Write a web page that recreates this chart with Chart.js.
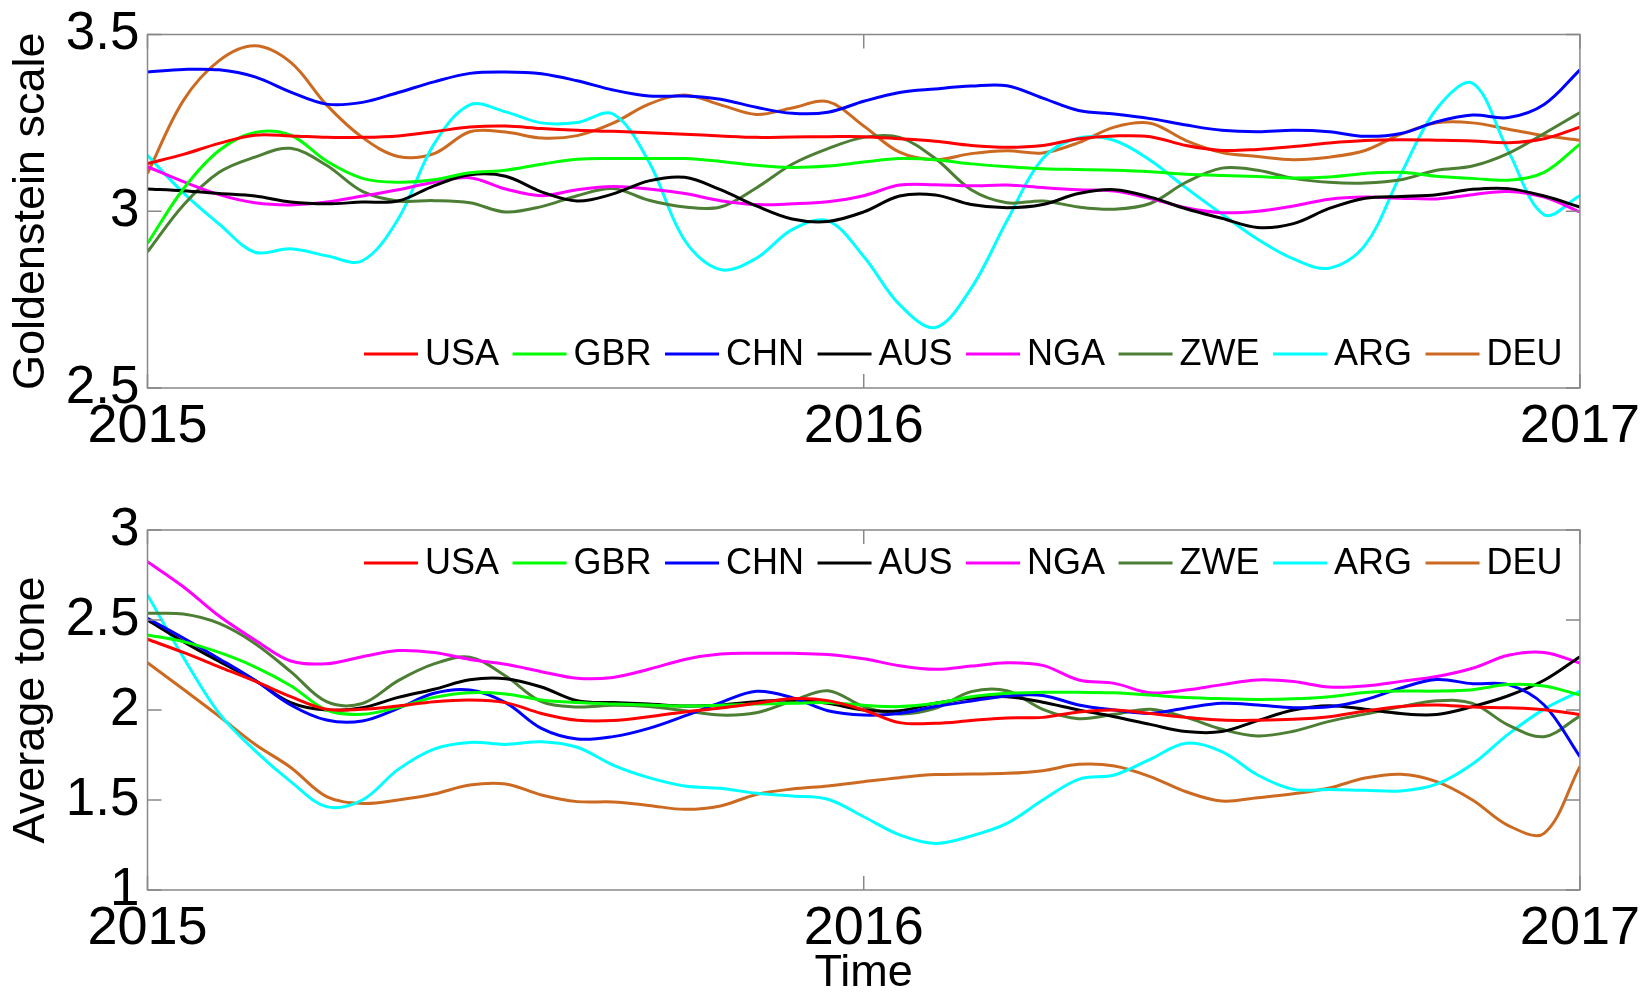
<!DOCTYPE html>
<html>
<head>
<meta charset="utf-8">
<script src="https://cdn.jsdelivr.net/npm/chart.js@4.4.0/dist/chart.umd.min.js"></script>
<style>
  html, body { margin: 0; padding: 0; background: #fff; overflow: hidden; }
  canvas { position: absolute; left: 0; }
  #goldChart { top: 0; }
  #toneChart { top: 470px; }
</style>
</head>
<body>
<canvas id="goldChart" width="1652" height="470"></canvas>
<canvas id="toneChart" width="1652" height="523"></canvas>
<script>
// sample times (fraction of year)
const timeAxis = [2015, 2015.05, 2015.1, 2015.15, 2015.2, 2015.25, 2015.3, 2015.35, 2015.4, 2015.45,
  2015.5, 2015.55, 2015.6, 2015.65, 2015.7, 2015.75, 2015.8, 2015.85, 2015.9, 2015.95,
  2016, 2016.05, 2016.1, 2016.15, 2016.2, 2016.25, 2016.3, 2016.35, 2016.4, 2016.45,
  2016.5, 2016.55, 2016.6, 2016.65, 2016.7, 2016.75, 2016.8, 2016.85, 2016.9, 2016.95, 2017];

const countries = ["USA", "GBR", "CHN", "AUS", "NGA", "ZWE", "ARG", "DEU"];
const colors = ["#ff0000", "#00ff00", "#0000ff", "#000000", "#ff00ff", "#4c7e34", "#00ffff", "#cc6a22"];

const xTickValues = [2015, 2016, 2017];
const xTickLabels = ["2015", "2016", "2017"];
const goldTicks = [2.5, 3, 3.5];
const goldTickLabels = ["2.5", "3", "3.5"];
const toneTicks = [1, 1.5, 2, 2.5, 3];
const toneTickLabels = ["1", "1.5", "2", "2.5", "3"];

// Goldenstein scale
const usaGold = [3.135, 3.161, 3.192, 3.215, 3.213, 3.209, 3.209, 3.213, 3.225, 3.238, 3.241, 3.234, 3.229, 3.226, 3.222, 3.218, 3.213, 3.209, 3.21, 3.211, 3.211, 3.205, 3.198, 3.186, 3.181, 3.186, 3.205, 3.213, 3.211, 3.186, 3.172, 3.175, 3.183, 3.193, 3.2, 3.202, 3.201, 3.199, 3.194, 3.205, 3.238];
const gbrGold = [2.909, 3.063, 3.172, 3.223, 3.215, 3.142, 3.093, 3.082, 3.089, 3.109, 3.116, 3.133, 3.147, 3.149, 3.149, 3.149, 3.141, 3.13, 3.124, 3.128, 3.139, 3.149, 3.146, 3.134, 3.126, 3.12, 3.118, 3.116, 3.112, 3.105, 3.101, 3.098, 3.094, 3.097, 3.107, 3.11, 3.099, 3.093, 3.088, 3.11, 3.19];
const chnGold = [3.394, 3.401, 3.4, 3.38, 3.337, 3.303, 3.308, 3.336, 3.366, 3.39, 3.394, 3.389, 3.369, 3.343, 3.326, 3.326, 3.317, 3.294, 3.277, 3.28, 3.311, 3.336, 3.346, 3.354, 3.355, 3.32, 3.285, 3.275, 3.262, 3.244, 3.229, 3.225, 3.229, 3.225, 3.212, 3.22, 3.253, 3.272, 3.265, 3.302, 3.4];
const ausGold = [3.063, 3.058, 3.05, 3.043, 3.026, 3.021, 3.026, 3.029, 3.072, 3.103, 3.099, 3.055, 3.029, 3.049, 3.086, 3.096, 3.061, 3.015, 2.978, 2.971, 2.998, 3.043, 3.046, 3.019, 3.01, 3.019, 3.05, 3.061, 3.04, 3.007, 2.98, 2.954, 2.965, 3.008, 3.037, 3.042, 3.047, 3.062, 3.064, 3.043, 3.012];
const ngaGold = [3.126, 3.084, 3.047, 3.024, 3.018, 3.026, 3.043, 3.061, 3.082, 3.095, 3.063, 3.044, 3.061, 3.07, 3.063, 3.05, 3.03, 3.019, 3.021, 3.027, 3.044, 3.074, 3.075, 3.072, 3.074, 3.067, 3.061, 3.057, 3.036, 3.01, 2.996, 3.0, 3.015, 3.034, 3.04, 3.037, 3.035, 3.047, 3.056, 3.04, 2.998];
const zweGold = [2.885, 3.017, 3.11, 3.153, 3.178, 3.13, 3.056, 3.029, 3.03, 3.024, 2.998, 3.013, 3.044, 3.064, 3.031, 3.012, 3.012, 3.066, 3.133, 3.177, 3.209, 3.209, 3.149, 3.061, 3.024, 3.029, 3.012, 3.006, 3.022, 3.082, 3.122, 3.116, 3.093, 3.082, 3.08, 3.089, 3.116, 3.128, 3.164, 3.22, 3.279];
const argGold = [3.158, 3.052, 2.964, 2.884, 2.894, 2.874, 2.86, 2.978, 3.19, 3.301, 3.281, 3.25, 3.251, 3.275, 3.14, 2.918, 2.835, 2.867, 2.948, 2.973, 2.872, 2.736, 2.671, 2.782, 2.973, 3.149, 3.207, 3.2, 3.144, 3.066, 2.992, 2.921, 2.865, 2.839, 2.904, 3.105, 3.29, 3.362, 3.17, 2.99, 3.044];
const deuGold = [3.107, 3.313, 3.426, 3.468, 3.421, 3.301, 3.209, 3.155, 3.163, 3.225, 3.224, 3.207, 3.214, 3.249, 3.303, 3.329, 3.301, 3.274, 3.292, 3.31, 3.241, 3.167, 3.146, 3.163, 3.171, 3.165, 3.194, 3.238, 3.249, 3.2, 3.166, 3.155, 3.146, 3.153, 3.172, 3.218, 3.25, 3.25, 3.232, 3.214, 3.201];

// Average tone
const usaTone = [2.393, 2.32, 2.24, 2.16, 2.074, 2.004, 2.004, 2.022, 2.046, 2.056, 2.041, 1.981, 1.943, 1.941, 1.963, 1.989, 2.011, 2.037, 2.063, 2.052, 2.0, 1.93, 1.926, 1.941, 1.956, 1.959, 1.989, 2.0, 1.981, 1.959, 1.944, 1.943, 1.948, 1.963, 1.994, 2.02, 2.028, 2.016, 2.012, 2.002, 1.975];
const gbrTone = [2.417, 2.38, 2.32, 2.24, 2.135, 2.0, 1.976, 2.015, 2.07, 2.096, 2.089, 2.056, 2.041, 2.033, 2.028, 2.022, 2.026, 2.033, 2.037, 2.041, 2.026, 2.019, 2.037, 2.074, 2.093, 2.098, 2.098, 2.096, 2.083, 2.07, 2.063, 2.059, 2.062, 2.074, 2.097, 2.105, 2.105, 2.113, 2.141, 2.133, 2.083];
const chnTone = [2.509, 2.4, 2.285, 2.165, 2.028, 1.944, 1.939, 2.009, 2.093, 2.111, 2.041, 1.898, 1.839, 1.852, 1.898, 1.967, 2.041, 2.104, 2.069, 1.996, 1.972, 1.981, 2.019, 2.05, 2.078, 2.081, 2.028, 2.0, 1.981, 2.011, 2.037, 2.028, 2.013, 2.018, 2.057, 2.122, 2.169, 2.146, 2.141, 2.028, 1.741];
const ausTone = [2.5, 2.38, 2.27, 2.165, 2.041, 2.0, 2.013, 2.07, 2.115, 2.168, 2.174, 2.128, 2.052, 2.041, 2.033, 2.022, 2.028, 2.046, 2.056, 2.037, 2.0, 1.996, 2.037, 2.065, 2.074, 2.043, 2.0, 1.963, 1.92, 1.88, 1.88, 1.941, 2.0, 2.024, 2.004, 1.98, 1.975, 2.019, 2.079, 2.165, 2.296];
const ngaTone = [2.824, 2.685, 2.522, 2.389, 2.272, 2.257, 2.296, 2.33, 2.319, 2.281, 2.254, 2.213, 2.176, 2.181, 2.226, 2.281, 2.311, 2.315, 2.315, 2.309, 2.285, 2.246, 2.226, 2.244, 2.263, 2.248, 2.167, 2.148, 2.096, 2.111, 2.141, 2.167, 2.158, 2.128, 2.134, 2.159, 2.186, 2.232, 2.304, 2.32, 2.261];
const zweTone = [2.537, 2.533, 2.481, 2.37, 2.213, 2.046, 2.036, 2.163, 2.256, 2.293, 2.189, 2.046, 2.017, 2.026, 2.019, 1.996, 1.972, 1.985, 2.05, 2.107, 2.019, 1.978, 2.009, 2.102, 2.107, 2.004, 1.952, 1.976, 2.004, 1.959, 1.893, 1.856, 1.882, 1.937, 1.977, 2.018, 2.051, 2.037, 1.916, 1.852, 1.967];
const argTone = [2.639, 2.293, 1.981, 1.774, 1.602, 1.463, 1.5, 1.67, 1.783, 1.82, 1.809, 1.824, 1.793, 1.694, 1.624, 1.578, 1.565, 1.537, 1.522, 1.504, 1.407, 1.306, 1.259, 1.3, 1.37, 1.5, 1.615, 1.639, 1.726, 1.815, 1.769, 1.639, 1.559, 1.559, 1.554, 1.55, 1.588, 1.7, 1.866, 2.005, 2.105];
const deuTone = [2.263, 2.115, 1.965, 1.81, 1.681, 1.519, 1.481, 1.5, 1.533, 1.583, 1.589, 1.528, 1.491, 1.489, 1.47, 1.448, 1.467, 1.531, 1.561, 1.578, 1.602, 1.624, 1.641, 1.644, 1.648, 1.663, 1.698, 1.689, 1.63, 1.546, 1.494, 1.513, 1.535, 1.567, 1.622, 1.643, 1.602, 1.5, 1.358, 1.315, 1.687];

const goldSeries = [usaGold, gbrGold, chnGold, ausGold, ngaGold, zweGold, argGold, deuGold];
const toneSeries = [usaTone, gbrTone, chnTone, ausTone, ngaTone, zweTone, argTone, deuTone];

const FONT = "'Liberation Sans', Arial, Helvetica, sans-serif";

// draws the grey box, inward ticks and a one-row legend inside the plot
const boxAndLegend = {
  id: "boxAndLegend",
  afterDatasetsDraw(chart, args, opts) {
    const ctx = chart.ctx;
    const a = chart.chartArea;
    const xs = chart.scales.x, ys = chart.scales.y;
    ctx.save();
    ctx.strokeStyle = "#888888";
    ctx.lineWidth = 1.5;
    ctx.strokeRect(a.left, a.top, a.right - a.left, a.bottom - a.top);
    ctx.beginPath();
    xTickValues.forEach(v => {
      const x = xs.getPixelForValue(v);
      ctx.moveTo(x, a.bottom); ctx.lineTo(x, a.bottom - 14);
      ctx.moveTo(x, a.top); ctx.lineTo(x, a.top + 14);
    });
    opts.yTicks.forEach(v => {
      const y = ys.getPixelForValue(v);
      ctx.moveTo(a.left, y); ctx.lineTo(a.left + 14, y);
      ctx.moveTo(a.right, y); ctx.lineTo(a.right - 14, y);
    });
    ctx.stroke();

    ctx.font = "36px " + FONT;
    ctx.textBaseline = "middle";
    ctx.textAlign = "left";
    let x = opts.legendX;
    const y = opts.legendY;
    chart.data.datasets.forEach(ds => {
      ctx.strokeStyle = ds.borderColor;
      ctx.lineWidth = 3;
      ctx.beginPath();
      ctx.moveTo(x, y); ctx.lineTo(x + 54, y);
      ctx.stroke();
      ctx.fillStyle = "#000";
      ctx.fillText(ds.label, x + 61, y + 1);
      x += 61 + ctx.measureText(ds.label).width + 13.5;
    });
    ctx.restore();
  }
};

function makeChart(id, series, yMin, yMax, yTicks, yLabels, yTitle, axisHeight, padTop, legendY, showTime) {
  const datasets = series.map((vals, i) => ({
    label: countries[i],
    data: timeAxis.map((t, k) => ({ x: t, y: vals[k] })),
    borderColor: colors[i],
    borderWidth: 3,
    pointRadius: 0,
    fill: false,
    tension: 0.35
  }));
  return new Chart(document.getElementById(id), {
    type: "line",
    data: { datasets: datasets },
    options: {
      responsive: false,
      animation: false,
      layout: { padding: { top: padTop, right: 69.5, left: 0, bottom: 0 } },
      plugins: {
        legend: { display: false },
        tooltip: { enabled: false },
        boxAndLegend: { yTicks: yTicks, legendX: 364, legendY: legendY }
      },
      scales: {
        x: {
          type: "linear",
          min: 2015,
          max: 2017,
          afterBuildTicks: s => { s.ticks = xTickValues.map(v => ({ value: v })); },
          afterFit: s => { s.height = axisHeight; },
          grid: { display: false, drawTicks: false },
          border: { display: false },
          ticks: {
            padding: 12,
            maxRotation: 0,
            autoSkip: false,
            color: "#000",
            font: { family: FONT, size: 54, lineHeight: 1 },
            callback: v => xTickLabels[xTickValues.indexOf(v)]
          },
          title: {
            display: showTime,
            text: "Time",
            color: "#000",
            padding: 0,
            font: { family: FONT, size: 45, lineHeight: 0.85 }
          }
        },
        y: {
          min: yMin,
          max: yMax,
          afterBuildTicks: s => { s.ticks = yTicks.map(v => ({ value: v })); },
          afterFit: s => { s.width = 147.5; },
          grid: { display: false, drawTicks: false },
          border: { display: false },
          ticks: {
            padding: 8,
            color: "#000",
            font: { family: FONT, size: 53, lineHeight: 1 },
            callback: v => yLabels[yTicks.indexOf(v)]
          },
          title: {
            display: true,
            text: yTitle,
            color: "#000",
            padding: { top: 5, bottom: 0 },
            font: { family: FONT, size: 45, lineHeight: 1.2 }
          }
        }
      }
    },
    plugins: [boxAndLegend]
  });
}

makeChart("goldChart", goldSeries, 2.5, 3.5, goldTicks, goldTickLabels, "Goldenstein scale", 82, 29.5, 354, false);
makeChart("toneChart", toneSeries, 1, 3, toneTicks, toneTickLabels, "Average tone", 103, 60, 93, true);
</script>
</body>
</html>
